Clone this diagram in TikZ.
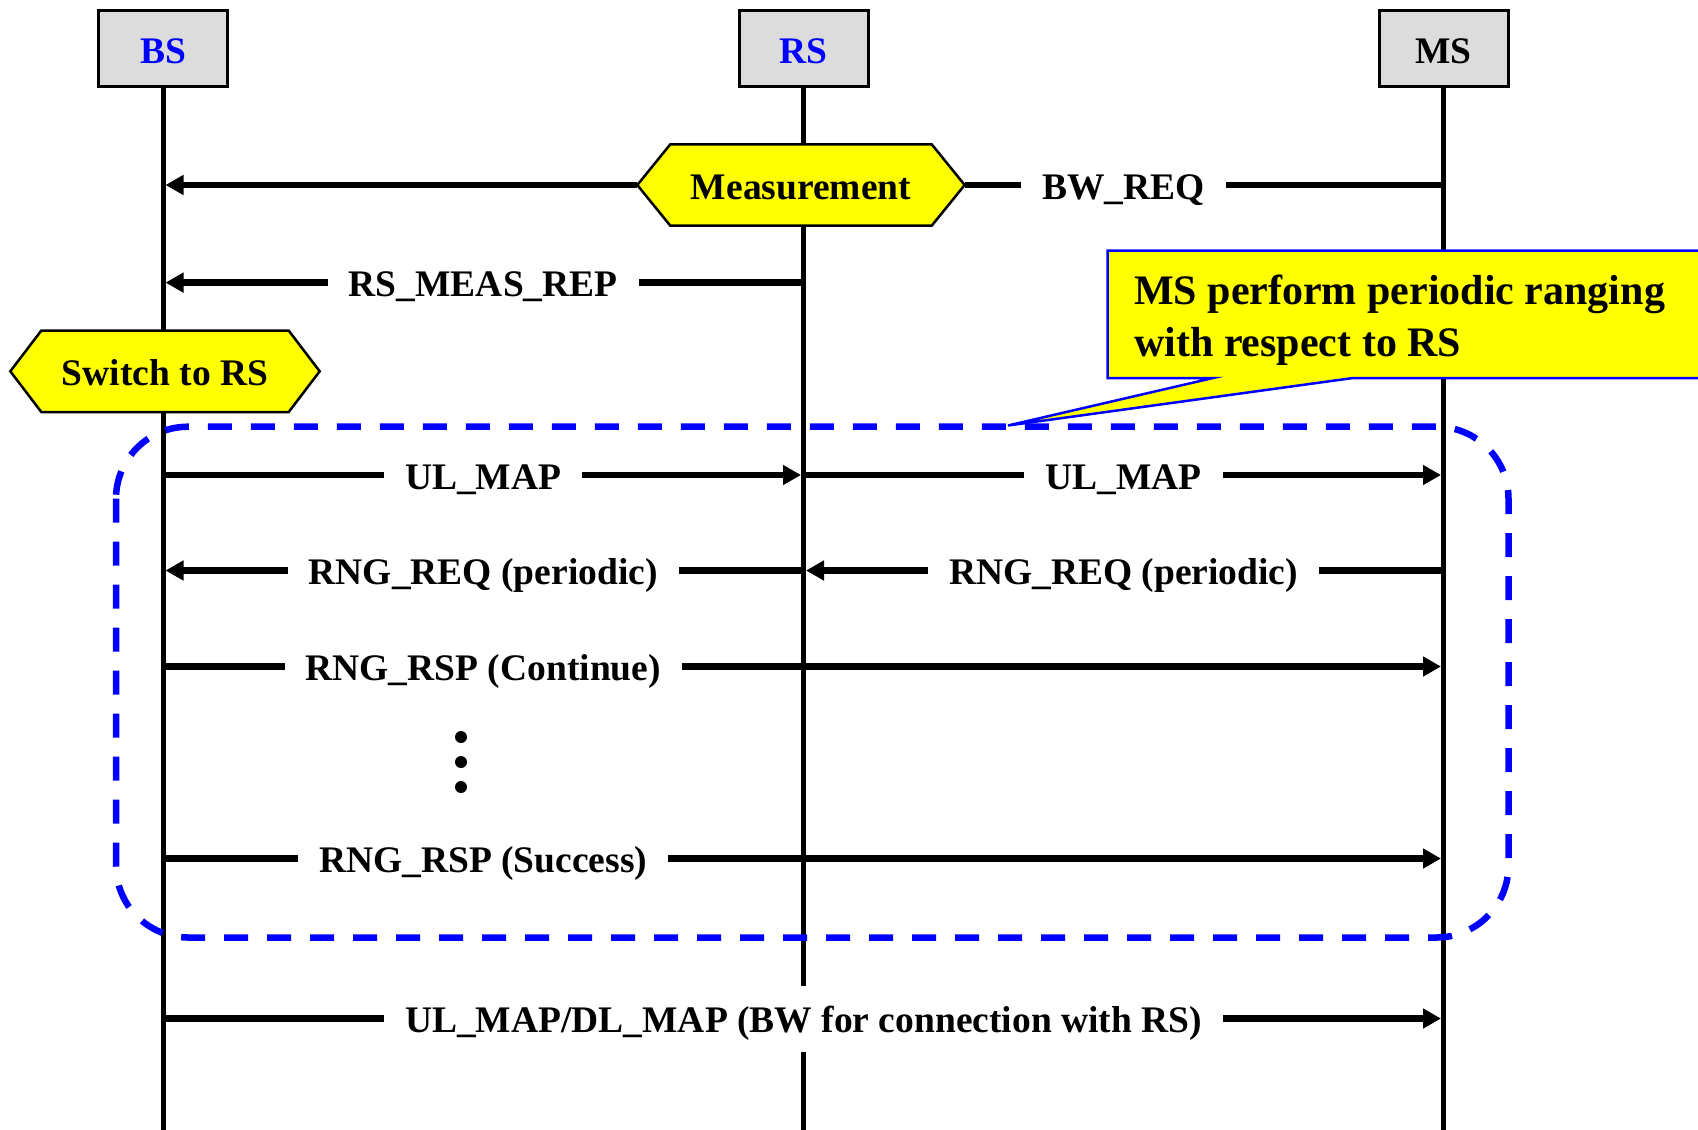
\documentclass[tikz,border=0pt]{standalone}
\usepackage{fontspec}
\setmainfont{Liberation Serif}
\usetikzlibrary{arrows.meta}
\pgfdeclarelayer{back}
\pgfdeclarelayer{mid}
\pgfsetlayers{back,mid,main}
\definecolor{boxgray}{RGB}{220,220,220}
\definecolor{hiyellow}{RGB}{255,255,0}
\definecolor{pureblue}{RGB}{0,0,255}
\tikzset{
  lab/.style={font=\fontsize{37.5}{40}\selectfont\bfseries},
  actor/.style={lab, draw=black, line width=3pt, fill=boxgray, minimum width=129pt, minimum height=76pt, inner sep=0pt, text height=29pt, text depth=0pt},
  lifeline/.style={line width=5pt},
  msgline/.style={line width=6.5pt},
  msgarrow/.style={msgline, -{Triangle[length=18pt,width=19pt]}, shorten >=2.5pt},
  msg/.style={lab, fill=white, inner xsep=21pt, inner ysep=0pt, text height=28pt, text depth=0pt, minimum height=66pt},
  hexlabel/.style={lab, inner sep=0pt, text height=28pt, text depth=0pt, minimum height=81pt},
  hexshape/.style={draw=black, fill=hiyellow, line width=2.5pt, line join=miter},
  group/.style={draw=pureblue, line width=6.5pt, dash pattern=on 24pt off 19pt, rounded corners=72pt},
  callout/.style={fill=hiyellow, draw=pureblue, line width=2.5pt, line join=miter},
  notetext/.style={font=\fontsize{42}{52}\selectfont\bfseries, align=left, inner sep=0pt},
}
\begin{document}
\begin{tikzpicture}[x=1pt,y=-1pt]
\useasboundingbox (0,0) rectangle (1698,1130);

% actors
\node[actor, text=pureblue] (bs) at (163,48.7) {BS};
\node[actor, text=pureblue] (rs) at (803.5,48.7) {RS};
\node[actor] (ms) at (1443.5,48.7) {MS};

% lifelines
\begin{pgfonlayer}{back}
\draw[lifeline] (bs.south) -- (bs |- 0,1140);
\draw[lifeline] (rs.south) -- (rs |- 0,1140);
\draw[lifeline] (ms.south) -- (ms |- 0,1140);
\end{pgfonlayer}

% Measurement hexagon
\node[hexlabel, minimum width=327pt] (meas) at (801,185) {Measurement};
\begin{pgfonlayer}{mid}
\draw[hexshape] (meas.west) -- ([xshift=33pt]meas.north west) -- ([xshift=-33pt]meas.north east)
  -- (meas.east) -- ([xshift=-33pt]meas.south east) -- ([xshift=33pt]meas.south west) -- cycle;
\end{pgfonlayer}

\draw[msgarrow] (meas.west) -- (bs |- meas.west);
\draw[msgline] (ms |- meas.east) -- (meas.east);
\node[msg] (bwreq) at (1123.5,185) {BW\_REQ};

% RS_MEAS_REP
\draw[msgarrow] (rs |- 0,282.6) -- (bs |- 0,282.6);
\node[msg] (measrep) at (483.25,282.6) {RS\_MEAS\_REP};

% Switch to RS hexagon
\node[hexlabel, minimum width=309pt] (switch) at (165,371.3) {Switch to RS};
\begin{pgfonlayer}{mid}
\draw[hexshape] (switch.west) -- ([xshift=31pt]switch.north west) -- ([xshift=-31pt]switch.north east)
  -- (switch.east) -- ([xshift=-31pt]switch.south east) -- ([xshift=31pt]switch.south west) -- cycle;
\end{pgfonlayer}

% UL_MAP
\draw[msgarrow] (bs |- 0,475) -- (rs |- 0,475);
\node[msg] (ulmap1) at (483.25,475) {UL\_MAP};
\draw[msgarrow] (rs |- 0,475) -- (ms |- 0,475);
\node[msg] (ulmap2) at (1123.5,475) {UL\_MAP};

% RNG_REQ
\draw[msgarrow] (ms |- 0,570.5) -- (rs |- 0,570.5);
\node[msg] (rngreq2) at (1123.5,570.5) {RNG\_REQ (periodic)};
\draw[msgarrow] (rs |- 0,570.5) -- (bs |- 0,570.5);
\node[msg] (rngreq1) at (483.25,570.5) {RNG\_REQ (periodic)};

% RNG_RSP (Continue)
\draw[msgarrow] (bs |- 0,666.5) -- (ms |- 0,666.5);
\node[msg] (rspcont) at (483.25,666.5) {RNG\_RSP (Continue)};

% dots
\fill (461,737) circle (6pt);
\fill (461,762) circle (6pt);
\fill (461,787) circle (6pt);

% RNG_RSP (Success)
\draw[msgarrow] (bs |- 0,858.5) -- (ms |- 0,858.5);
\node[msg] (rspsucc) at (483.25,858.5) {RNG\_RSP (Success)};

% dashed group
\draw[group] (116,426.7) rectangle (1508.5,937.5);

% callout
\draw[callout] (1107.5,250.7) -- (1720,250.7) -- (1720,378) -- (1353,378) -- (1008,425.5) -- (1213,378) -- (1107.5,378) -- cycle;
\node[notetext, anchor=west] (note) at (1134,320.3) {MS perform periodic ranging\\with respect to RS};

% UL_MAP/DL_MAP
\draw[msgarrow] (bs |- 0,1018.5) -- (ms |- 0,1018.5);
\node[msg] (ulDl) at (803.5,1018.5) {UL\_MAP/DL\_MAP (BW for connection with RS)};
\end{tikzpicture}
\end{document}
